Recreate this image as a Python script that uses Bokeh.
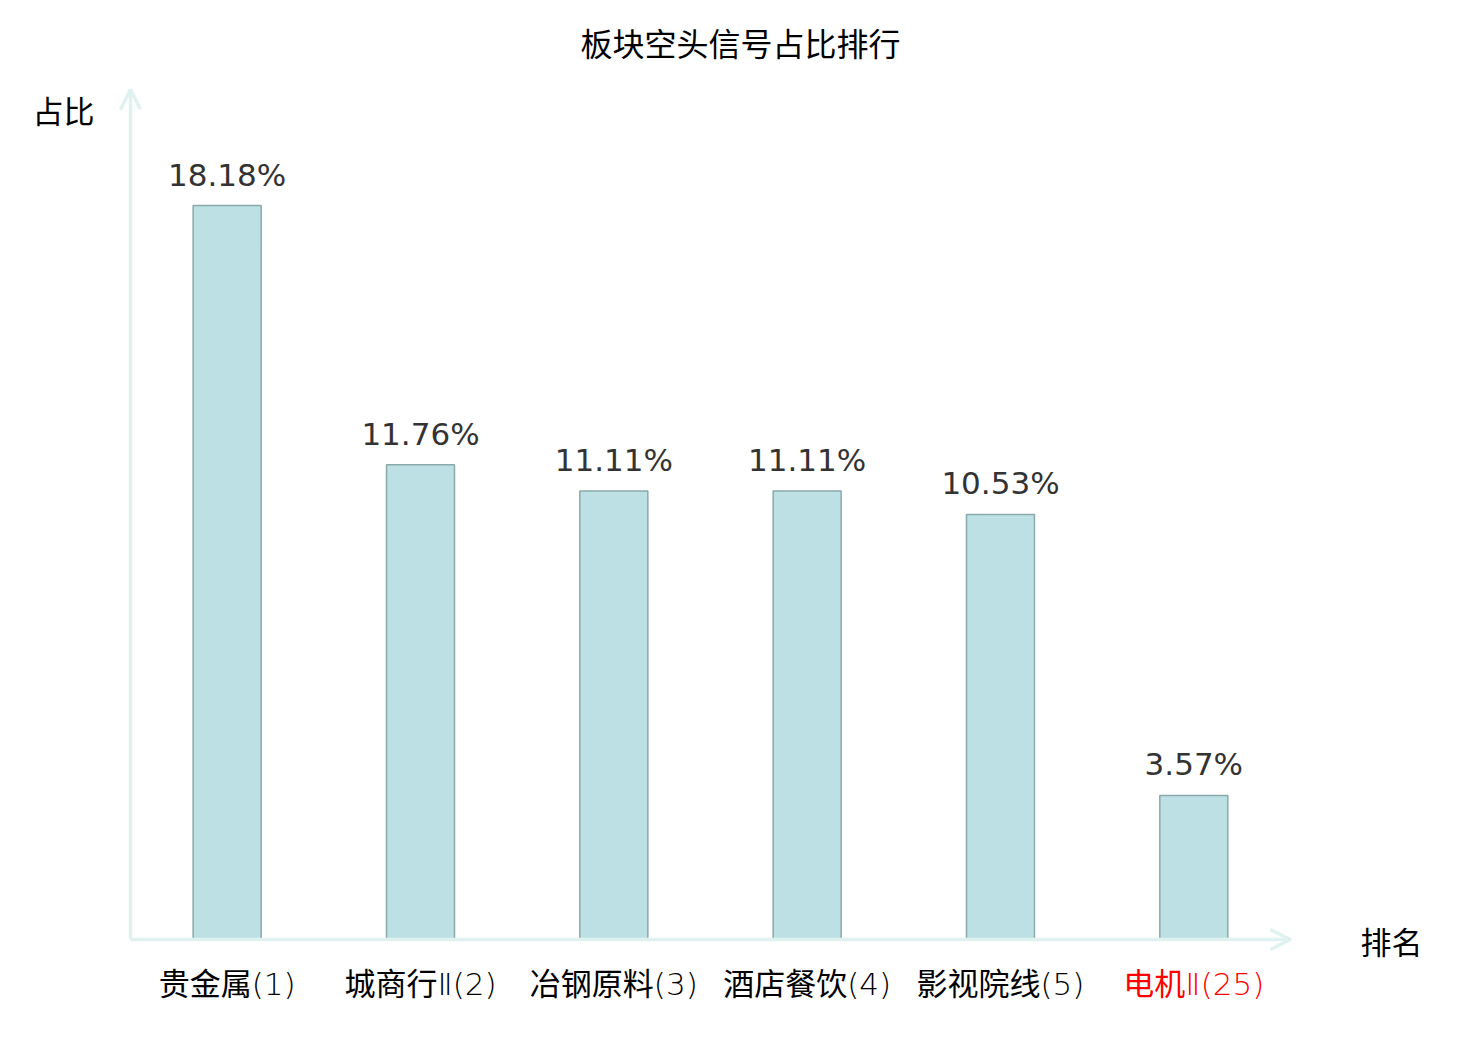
from bokeh.plotting import figure
from bokeh.models import ColumnDataSource, Arrow, OpenHead, Range1d
from bokeh.core.properties import value
from bokeh.embed import file_html
from bokeh.resources import INLINE

title_text = "板块空头信号占比排行"
categories = ["贵金属(1)", "城商行Ⅱ(2)", "冶钢原料(3)", "酒店餐饮(4)", "影视院线(5)", "电机Ⅱ(25)"]
values = [18.18, 11.76, 11.11, 11.11, 10.53, 3.57]
label_colors = ["#000000", "#000000", "#000000", "#000000", "#000000", "#ff0000"]
y_name = "占比"
x_name = "排名"

W, H = 1464, 1024
px_x = 193.33   # px per category
px_y = 40.37    # px per percent
ox, oy = 130, 939  # origin in canvas px

x0 = -ox / px_x
x1 = (W - ox) / px_x
y1 = oy / px_y
y0 = -(H - oy) / px_y

p = figure(width=W, height=H, output_backend="svg", toolbar_location=None,
           x_range=Range1d(x0, x1), y_range=Range1d(y0, y1),
           min_border=0, min_border_left=0, min_border_right=0,
           min_border_top=0, min_border_bottom=0)
p.axis.visible = False
p.grid.visible = False
p.outline_line_color = None
p.background_fill_color = "white"
p.border_fill_color = "white"

xs = [i + 0.5 for i in range(len(categories))]
src = ColumnDataSource(dict(x=xs, top=values, cat=categories, col=label_colors,
                            lbl=[f"{v:.2f}%" for v in values]))

axis_color = "#dff2ef"
x_end = 6.0
y_end = (939 - 89) / px_y
p.add_layout(Arrow(end=OpenHead(line_color=axis_color, line_width=3.5, size=20),
                   x_start=0, y_start=0, x_end=x_end, y_end=0,
                   line_color=axis_color, line_width=3.5))
p.add_layout(Arrow(end=OpenHead(line_color=axis_color, line_width=3.5, size=20),
                   x_start=0, y_start=0, x_end=0, y_end=y_end,
                   line_color=axis_color, line_width=3.5))

p.vbar(x="x", top="top", bottom=0, width=68 / px_x, source=src,
       fill_color="#bce0e3", line_color="#8aa9aa", line_width=1.5)

p.text(x="x", y="top", text="lbl", source=src, y_offset=-13,
       text_align="center", text_baseline="bottom",
       text_font=value("DejaVu Sans"), text_font_size="31px", text_color="#333333")

p.text(x="x", y=-(983 - 939) / px_y, text="cat", source=src,
       text_align="center", text_baseline="middle", text_color="col",
       text_font=value("'DejaVu Sans Light', 'DejaVu Sans ExtraLight', 'Noto Sans CJK SC'"),
       text_font_size="31px")

p.text(x=[(740 - 130) / px_x], y=[(939 - 41) / px_y], text=[title_text],
       text_align="center", text_baseline="middle",
       text_font=value("Noto Sans CJK SC"), text_font_size="32px", text_color="#000000")
p.text(x=[(63 - 130) / px_x], y=[(939 - 109) / px_y], text=[y_name],
       text_align="center", text_baseline="middle",
       text_font=value("Noto Sans CJK SC"), text_font_size="31px", text_color="#000000")
p.text(x=[(1391 - 130) / px_x], y=[(939 - 940) / px_y], text=[x_name],
       text_align="center", text_baseline="middle",
       text_font=value("Noto Sans CJK SC"), text_font_size="31px", text_color="#000000")

open("out.html", "w").write(file_html(p, INLINE))
